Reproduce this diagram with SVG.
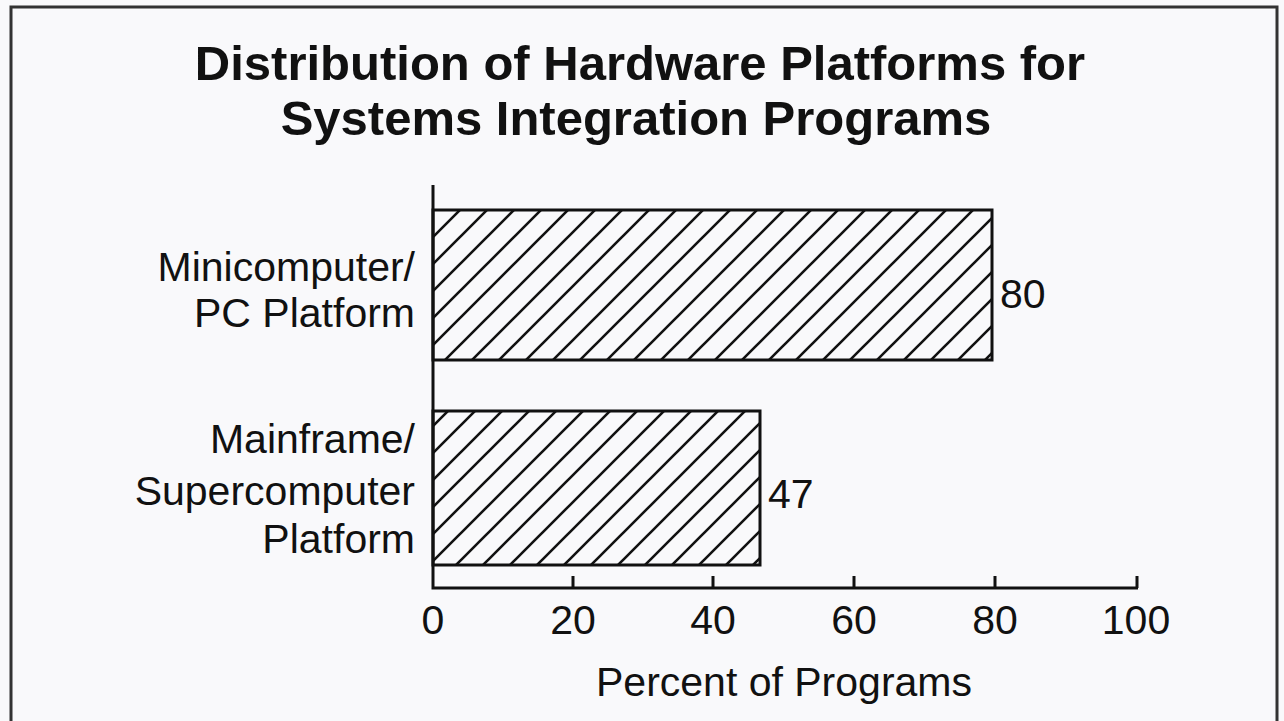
<svg xmlns="http://www.w3.org/2000/svg" width="1284" height="721" viewBox="0 0 1284 721">
  <defs>
    <pattern id="hatch" patternUnits="userSpaceOnUse" x="433" y="210" width="27" height="27">
      <path d="M-2,29 L29,-2 M-2,2 L2,-2 M25,29 L29,25" stroke="#111" stroke-width="2.6" fill="none"/>
    </pattern>
  </defs>
  <style>
    .title { font-family: "Liberation Sans", Arial, sans-serif; font-weight: bold; font-size: 49px; fill: #111; text-anchor: middle; }
    .lbl { font-family: "Liberation Sans", Arial, sans-serif; font-size: 41px; fill: #111; }
    .cat { text-anchor: end; }
    .tick { text-anchor: middle; }
    .bar { fill: url(#hatch); stroke: #111; stroke-width: 3; }
    .axis { stroke: #111; stroke-width: 3; fill: none; }
  </style>
  <rect x="0" y="0" width="1284" height="721" fill="#f9f9fb"/>
  <rect x="11" y="7" width="1266" height="730" fill="none" stroke="#333" stroke-width="3"/>

  <g id="title">
    <text class="title" x="640" y="80">Distribution of Hardware Platforms for</text>
    <text class="title" x="636" y="135">Systems Integration Programs</text>
  </g>

  <g id="bar-mini">
    <rect class="bar" x="433" y="210" width="559" height="150"/>
    <text class="lbl cat" x="415" y="281">Minicomputer/</text>
    <text class="lbl cat" x="415" y="327">PC Platform</text>
    <text class="lbl" x="1000" y="308">80</text>
  </g>

  <g id="bar-main">
    <rect class="bar" x="433" y="411" width="327" height="154"/>
    <text class="lbl cat" x="415" y="453">Mainframe/</text>
    <text class="lbl cat" x="415" y="505">Supercomputer</text>
    <text class="lbl cat" x="415" y="553">Platform</text>
    <text class="lbl" x="768" y="508">47</text>
  </g>

  <g id="axes">
    <path class="axis" d="M433,185 L433,588 L1138,588"/>
    <path class="axis" d="M573,576 L573,588 M713,576 L713,588 M854,576 L854,588 M995,576 L995,588 M1137,576 L1137,588"/>
    <text class="lbl tick" x="433" y="634">0</text>
    <text class="lbl tick" x="573" y="634">20</text>
    <text class="lbl tick" x="713" y="634">40</text>
    <text class="lbl tick" x="854" y="634">60</text>
    <text class="lbl tick" x="995" y="634">80</text>
    <text class="lbl tick" x="1136" y="634">100</text>
    <text class="lbl tick" x="784" y="696">Percent of Programs</text>
  </g>
</svg>
